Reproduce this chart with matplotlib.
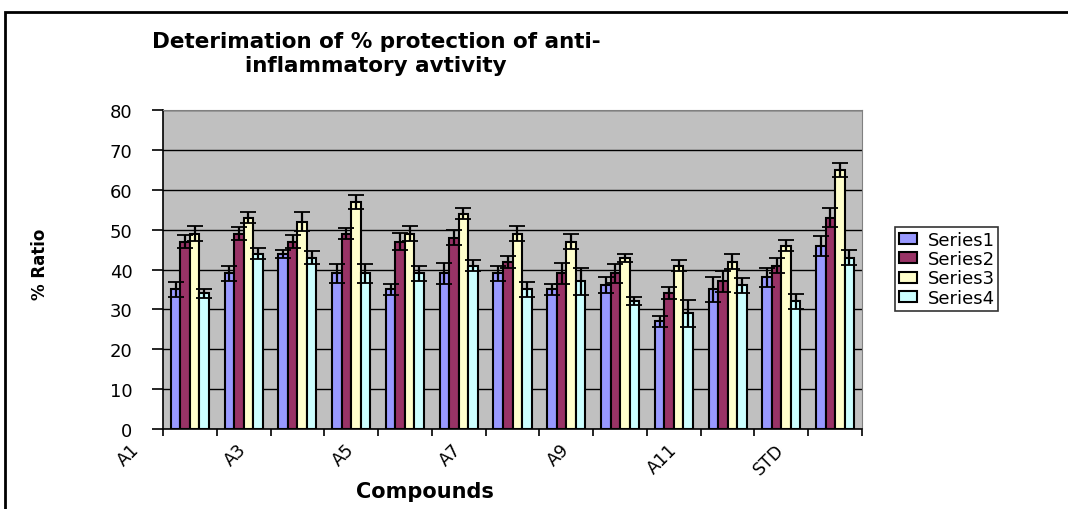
import matplotlib
import matplotlib.pyplot as plt
import matplotlib.transforms as mtransforms
from matplotlib.patches import Rectangle
import numpy as np

matplotlib.use('Agg')

# data
compounds = ['A1', 'A2', 'A3', 'A4', 'A5', 'A6', 'A7', 'A8', 'A9', 'A10', 'A11', 'A12', 'STD']
series1 = [35, 39, 44, 39, 35, 39, 39, 35, 36, 27, 35, 38, 46]
series2 = [47, 49, 47, 49, 47, 48, 42, 39, 39, 34, 37, 41, 53]
series3 = [49, 53, 52, 57, 49, 54, 49, 47, 43, 41, 42, 46, 65]
series4 = [34, 44, 43, 39, 39, 41, 35, 37, 32, 29, 36, 32, 43]
err1 = [1.8, 1.9, 1.0, 2.4, 1.3, 2.7, 1.8, 1.4, 2.0, 1.3, 3.2, 2.5, 2.5]
err2 = [1.7, 1.7, 1.6, 1.3, 2.1, 1.9, 1.5, 2.6, 2.5, 1.5, 2.6, 1.8, 2.3]
err3 = [1.8, 1.4, 2.4, 1.8, 1.8, 1.4, 1.8, 1.9, 1.0, 1.5, 1.9, 1.4, 1.8]
err4 = [1.2, 1.3, 1.7, 2.4, 1.8, 1.5, 1.9, 3.3, 1.0, 3.3, 1.9, 1.8, 1.8]
series_names = ['Series1', 'Series2', 'Series3', 'Series4']
colors = ['#9999FF', '#993366', '#FFFFCC', '#CCFFFF']

plt.rcParams['font.family'] = ['DejaVu Sans']

fig = plt.figure(figsize=(10.68, 5.10), dpi=100)
ax = fig.add_axes([163 / 1068, 80 / 510, 699 / 1068, 319 / 510])
ax.set_facecolor('#C0C0C0')

x = np.arange(len(compounds))
w = 0.177
values = [series1, series2, series3, series4]
errors = [err1, err2, err3, err4]
for k in range(4):
    ax.bar(x + (k - 1.5) * w, values[k], w, color=colors[k], edgecolor='black',
           linewidth=1.5, label=series_names[k], zorder=3)
    ax.errorbar(x + (k - 1.5) * w, values[k], yerr=errors[k], fmt='none',
                ecolor='black', elinewidth=1.6, capsize=5.5, capthick=1.3, zorder=4)

ax.set_xlim(-0.5, len(compounds) - 0.5)
ax.set_ylim(0, 80)
ax.set_yticks(range(0, 81, 10))
ax.yaxis.grid(True, color='black', linewidth=1)
ax.set_axisbelow(True)

# ticks marks at category boundaries, labels on every other category
ax.set_xticks(np.arange(-0.5, len(compounds), 1), minor=True)
ax.set_xticks(x[::2])
ax.set_xticklabels(compounds[::2], rotation=45, ha='right', rotation_mode='anchor',
                   fontsize=12.5)
ax.tick_params(axis='x', which='major', length=0, pad=8)
ax.tick_params(axis='x', which='minor', length=5, width=1.2, direction='out')
ax.tick_params(axis='y', length=8, width=1.2, direction='out', pad=14, labelsize=13)
shift = mtransforms.ScaledTranslation(-60 / 100, 0, fig.dpi_scale_trans)
for lab in ax.get_xticklabels():
    lab.set_transform(lab.get_transform() + shift)

ax.spines['left'].set_linewidth(1.2)
ax.spines['bottom'].set_linewidth(1.2)
ax.spines['top'].set_color('#808080')
ax.spines['right'].set_color('#808080')

fig.text(376 / 1068, 1 - 54 / 510, 'Deterimation of % protection of anti-\ninflammatory avtivity',
         ha='center', va='center', fontsize=15.5, fontweight='bold', linespacing=1.25)
fig.text(425 / 1068, 1 - 492 / 510, 'Compounds', ha='center', va='center',
         fontsize=15, fontweight='bold')
fig.text(40 / 1068, 1 - 264 / 510, '% Ratio', ha='center', va='center', rotation=90,
         fontsize=12, fontweight='heavy')

leg = fig.legend(loc='upper left', bbox_to_anchor=(895 / 1068, 1 - 228 / 510),
                 fontsize=13, frameon=True, fancybox=False, edgecolor='black',
                 handlelength=1.0, handleheight=0.55, handletextpad=0.6,
                 labelspacing=0.08, borderpad=0.2, borderaxespad=0)
leg.get_frame().set_linewidth(1.2)

# outer chart border
fig.patches.append(Rectangle((5 / 1068, -0.1), 1.2, 1.1 - 13 / 510, transform=fig.transFigure,
                             fill=False, edgecolor='black', linewidth=2))

fig.savefig('out.png', dpi=100)
